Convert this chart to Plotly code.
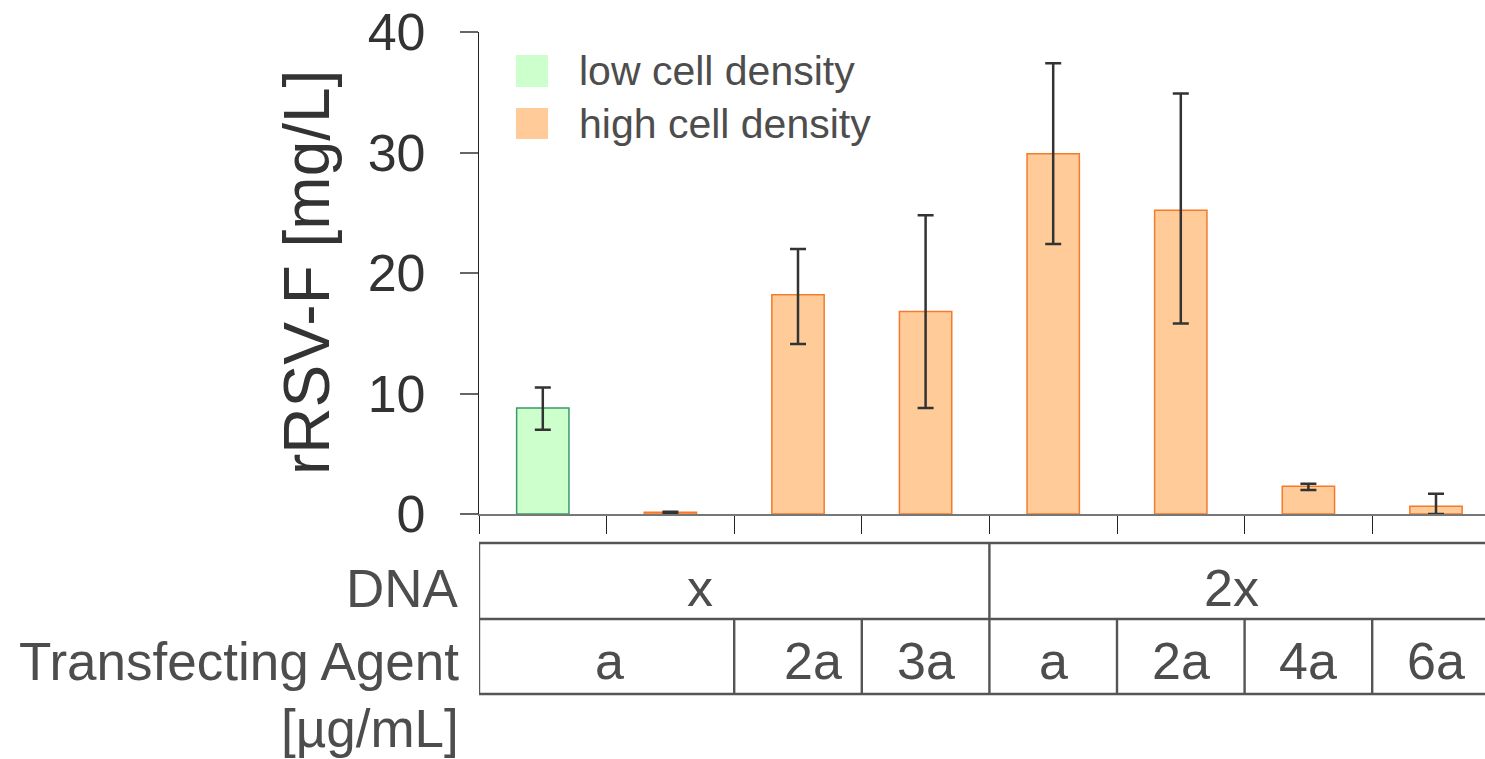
import plotly.graph_objects as go

# ---------------- data ----------------
categories = [0, 1, 2, 3, 4, 5, 6, 7]
low_x = [0]
low_vals = [8.8]
low_err_plus = [1.7]
low_err_minus = [1.8]

high_x = [1, 2, 3, 4, 5, 6, 7]
high_vals = [0.14, 18.2, 16.8, 29.9, 25.2, 2.3, 0.64]
high_err_plus = [0.05, 3.8, 8.0, 7.5, 9.7, 0.22, 1.04]
high_err_minus = [0.05, 4.1, 8.0, 7.5, 9.4, 0.31, 0.64]

dna_labels = ["x", "2x"]
agent_labels = ["a", "2a", "3a", "a", "2a", "4a", "6a"]
yticks = [0, 10, 20, 30, 40]

# ---------------- style ----------------
FONT = "Liberation Sans, Arial, sans-serif"
TXT = "#4d4d4d"
LINE = "#555555"
W, H = 1485, 759
ML, MT, MB = 479, 32, 245
PH = H - MT - MB
PW = W - ML
XMIN, XMAX = -0.5, 7.384

def py(px):  # pixel y -> paper y
    return (H - MB - px) / PH

def pxp(px):  # pixel x -> paper x
    return (px - ML) / PW

fig = go.Figure()
fig.add_trace(go.Bar(
    x=low_x, y=low_vals, width=0.41, name="low cell density",
    marker=dict(color="#ccffcc", line=dict(color="#3a9a6a", width=1.5)),
    error_y=dict(type="data", array=low_err_plus, arrayminus=low_err_minus,
                 color="#333333", thickness=2.5, width=8),
    showlegend=False,
))
fig.add_trace(go.Bar(
    x=high_x, y=high_vals, width=0.41, name="high cell density",
    marker=dict(color="#ffcc99", line=dict(color="#f57a2c", width=1.5)),
    error_y=dict(type="data", array=high_err_plus, arrayminus=high_err_minus,
                 color="#333333", thickness=2.5, width=8),
    showlegend=False,
))

shapes = []
annotations = []

# legend (manual)
for (name, fill, ytop, ybot) in [("low cell density", "#ccffcc", 55, 87),
                                  ("high cell density", "#ffcc99", 108, 139)]:
    shapes.append(dict(type="rect", xref="paper", yref="paper",
                       x0=pxp(516), x1=pxp(548), y0=py(ybot), y1=py(ytop),
                       fillcolor=fill, line=dict(width=0)))
    annotations.append(dict(text=name, xref="paper", yref="paper",
                            x=pxp(577), y=py((ytop + ybot) / 2),
                            xanchor="left", yanchor="middle", showarrow=False,
                            font=dict(family=FONT, size=41, color=TXT)))

# table lines
y_top, y_mid, y_bot = py(543), py(619), py(694)
for yy in (y_top, y_mid, y_bot):
    shapes.append(dict(type="line", xref="x", yref="paper", x0=-0.5, x1=7.5,
                       y0=yy, y1=yy, line=dict(color=LINE, width=2.4)))
for xx in (-0.5, 3.5):
    shapes.append(dict(type="line", xref="x", yref="paper", x0=xx, x1=xx,
                       y0=y_top, y1=y_bot, line=dict(color=LINE, width=2.4)))
for xx in (1.5, 2.5, 4.5, 5.5, 6.5):
    shapes.append(dict(type="line", xref="x", yref="paper", x0=xx, x1=xx,
                       y0=y_mid, y1=y_bot, line=dict(color=LINE, width=2.4)))

# table text
dna_pos = [1.23, 5.4]
for lab, xx in zip(dna_labels, dna_pos):
    annotations.append(dict(text=lab, xref="x", yref="paper", x=xx, y=py(588),
                            xanchor="center", yanchor="middle", showarrow=False,
                            font=dict(family=FONT, size=52, color=TXT)))
agent_pos = [0.52, 2.12, 3.0, 4.0, 5.0, 6.0, 7.0]
for lab, xx in zip(agent_labels, agent_pos):
    annotations.append(dict(text=lab, xref="x", yref="paper", x=xx, y=py(661),
                            xanchor="center", yanchor="middle", showarrow=False,
                            font=dict(family=FONT, size=52, color=TXT)))

# row labels
for lab, yy in [("DNA", 588), ("Transfecting Agent", 661), ("[µg/mL]", 728)]:
    annotations.append(dict(text=lab, xref="paper", yref="paper", x=pxp(461), y=py(yy),
                            xanchor="right", yanchor="middle", showarrow=False,
                            font=dict(family=FONT, size=53, color=TXT)))

# y-axis title
annotations.append(dict(text="rRSV-F [mg/L]", xref="paper", yref="paper",
                        x=pxp(307), y=0.5, textangle=-90,
                        xanchor="center", yanchor="middle", showarrow=False,
                        font=dict(family=FONT, size=64, color="#333333")))

fig.update_layout(
    width=W, height=H,
    margin=dict(l=ML, r=0, t=MT, b=MB, pad=0),
    paper_bgcolor="white", plot_bgcolor="white",
    barmode="overlay",
    showlegend=False,
    shapes=shapes, annotations=annotations,
    xaxis=dict(range=[XMIN, XMAX], showgrid=False, zeroline=False,
               showline=True, linecolor="#777777", linewidth=2,
               tickmode="array", tickvals=[-0.5, 0.5, 1.5, 2.5, 3.5, 4.5, 5.5, 6.5],
               ticktext=[""] * 8, ticks="outside", ticklen=18, tickwidth=1.2,
               tickcolor="#222222"),
    yaxis=dict(range=[0, 40], showgrid=False, zeroline=False,
               showline=True, linecolor="#222222", linewidth=1.2,
               tickmode="array", tickvals=yticks,
               ticks="outside", ticklen=18, tickwidth=1.5, tickcolor="#666666",
               ticklabelstandoff=24,
               tickfont=dict(family=FONT, size=52, color="#333333")),
)

fig.write_html("out.html")
